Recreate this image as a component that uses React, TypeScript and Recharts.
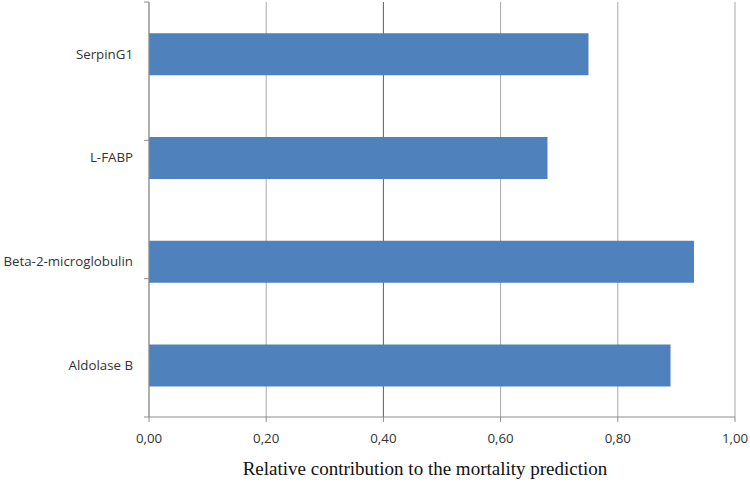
import { BarChart, Bar, XAxis, YAxis, CartesianGrid } from 'recharts'

const markers = ['SerpinG1', 'L-FABP', 'Beta-2-microglobulin', 'Aldolase B']
const contribution = [0.75, 0.68, 0.93, 0.89]
const xTicks = [0, 0.2, 0.4, 0.6, 0.8, 1.0]
const bandEdges = [0, 1, 2, 3, 4]

const data = markers.map((name, i) => ({ name, value: contribution[i] }))

const fmt = (v: number) => v.toFixed(2).replace('.', ',')

// the 0,40 gridline is darker than the others in the original
const GridLine = (p: any) => (
  <line
    key={`v-${p.index}`}
    x1={p.x1}
    y1={p.y1}
    x2={p.x2}
    y2={p.y2}
    stroke={p.index === 2 ? '#5e5e5e' : '#a8a8a8'}
    strokeWidth={1}
  />
)

export default function App() {
  return (
    <div style={{ width: 750, height: 483 }}>
      <style>{'body{margin:0}'}</style>
      <BarChart
        width={750}
        height={483}
        data={data}
        layout="vertical"
        margin={{ top: 2, right: 15, bottom: 0, left: 0 }}
        barCategoryGap="30%"
      >
        <CartesianGrid horizontal={false} vertical={GridLine} />
        <XAxis
          type="number"
          domain={[0, 1]}
          ticks={xTicks}
          tickFormatter={fmt}
          height={66}
          stroke="#8c8c8c"
          tickSize={5}
          tickMargin={12}
          tick={{ fill: '#333', fontSize: 13.3, fontFamily: 'Open Sans' }}
          label={{
            value: 'Relative contribution to the mortality prediction',
            position: 'insideBottom',
            offset: 8,
            dx: -17,
            fill: '#111',
            fontSize: 19,
            fontFamily: 'Liberation Serif',
          }}
        />
        <YAxis
          type="category"
          dataKey="name"
          width={149}
          axisLine={false}
          tickLine={false}
          tickSize={0}
          tickMargin={16}
          tick={{ fill: '#333', fontSize: 13.3, fontFamily: 'Open Sans' }}
        />
        <YAxis
          yAxisId="edges"
          type="number"
          domain={[0, 4]}
          ticks={bandEdges}
          allowDataOverflow
          mirror
          tickSize={-5}
          tickFormatter={() => ''}
          stroke="#8c8c8c"
        />
        <Bar dataKey="value" fill="#4f81bd" isAnimationActive={false} />
      </BarChart>
    </div>
  )
}
